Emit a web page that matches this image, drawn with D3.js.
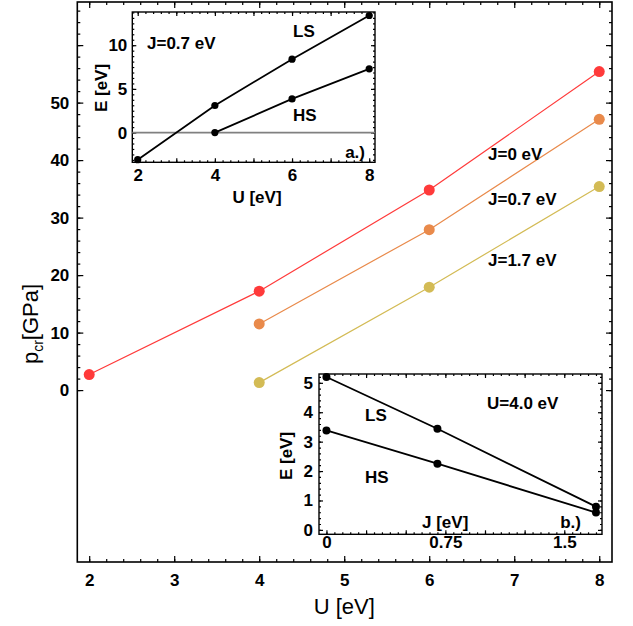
<!DOCTYPE html>
<html>
<head>
<meta charset="utf-8">
<script src="https://cdn.jsdelivr.net/npm/d3@7"></script>
<style>
  body { margin: 0; background: #fff; }
  svg { display: block; font-family: "Liberation Sans", Arial, Helvetica, sans-serif; }
  .tl text { font-weight: bold; font-size: 17px; fill: #000; }
  .tl path, .tk path { display: none; }
  .tk line, .tl line { stroke: #000; stroke-width: 1.2; }
  .lab { font-weight: bold; font-size: 17px; }
</style>
</head>
<body>
<svg id="graph" width="633" height="626"></svg>
<script>
//Main panel data: critical pressure vs U
const uJ0 = [2, 4, 6, 8];
const pJ0 = [2.7, 17.2, 34.8, 55.4];
const uJ = [4, 6, 8];
const pJ07 = [11.5, 27.9, 47.1];
const pJ17 = [1.3, 17.9, 35.4];
const seriesNames = ["J=0 eV", "J=0.7 eV", "J=1.7 eV"];
const seriesColors = ["#ff3a3a", "#e98a4b", "#d3bb55"];

//Inset a.) energies vs U at J=0.7 eV
const uLS = [2, 4, 6, 8];
const eLS = [-3.1, 3.1, 8.4, 13.4];
const uHS = [4, 6, 8];
const eHS = [0, 3.85, 7.3];

//Inset b.) energies vs J at U=4.0 eV
const jVals = [0, 0.7, 1.7];
const eLSb = [5.2, 3.44, 0.79];
const eHSb = [3.38, 2.25, 0.59];

//Tick labels
const mainXTicks = [2, 3, 4, 5, 6, 7, 8];
const mainYTicks = [0, 10, 20, 30, 40, 50];
const aXTicks = [2, 4, 6, 8];
const aYTicks = [0, 5, 10];
const bXTicks = [0, 0.75, 1.5];
const bYTicks = [0, 1, 2, 3, 4, 5];

let svg = d3.select("#graph");

// ticks on all four sides of a box, inward, with labels on left/bottom
function drawFrame(g, x, y, o) {
  let x0 = x.range()[0], x1 = x.range()[1];
  let y0 = y.range()[0], y1 = y.range()[1];

  g.append("rect")
    .attr("x", x0).attr("y", y1)
    .attr("width", x1 - x0).attr("height", y0 - y1)
    .attr("fill", "#fff");

  let minorX = d3.range(o.mx[0], o.mx[1] + 1e-9, o.mx[2]).filter(v => v >= x.domain()[0] && v <= x.domain()[1]);
  let minorY = d3.range(o.my[0], o.my[1] + 1e-9, o.my[2]).filter(v => v >= y.domain()[0] && v <= y.domain()[1]);
  let majorX = o.MX.filter(v => v >= x.domain()[0] && v <= x.domain()[1]);
  let majorY = o.MY.filter(v => v >= y.domain()[0] && v <= y.domain()[1]);

  // minor ticks
  g.append("g").attr("class", "tk").attr("transform", "translate(0," + y0 + ")")
    .call(d3.axisBottom(x).tickValues(minorX).tickSize(-o.minor).tickFormat(""));
  g.append("g").attr("class", "tk").attr("transform", "translate(0," + y1 + ")")
    .call(d3.axisTop(x).tickValues(minorX).tickSize(-o.minor).tickFormat(""));
  g.append("g").attr("class", "tk").attr("transform", "translate(" + x0 + ",0)")
    .call(d3.axisLeft(y).tickValues(minorY).tickSize(-o.minor).tickFormat(""));
  g.append("g").attr("class", "tk").attr("transform", "translate(" + x1 + ",0)")
    .call(d3.axisRight(y).tickValues(minorY).tickSize(-o.minor).tickFormat(""));

  // major ticks
  g.append("g").attr("class", "tk").attr("transform", "translate(0," + y1 + ")")
    .call(d3.axisTop(x).tickValues(majorX).tickSize(-o.major).tickFormat(""));
  g.append("g").attr("class", "tk").attr("transform", "translate(" + x1 + ",0)")
    .call(d3.axisRight(y).tickValues(majorY).tickSize(-o.major).tickFormat(""));

  let bx = g.append("g").attr("class", "tl").attr("transform", "translate(0," + y0 + ")")
    .call(d3.axisBottom(x).tickValues(majorX).tickSize(-o.major).tickPadding(o.px)
      .tickFormat(v => o.xl.includes(v) ? String(v) : ""));
  let by = g.append("g").attr("class", "tl").attr("transform", "translate(" + x0 + ",0)")
    .call(d3.axisLeft(y).tickValues(majorY).tickSize(-o.major).tickPadding(o.py)
      .tickFormat(v => o.yl.includes(v) ? String(v) : ""));
  bx.selectAll("text").attr("y", o.px).attr("dy", "0.71em");
  by.selectAll("text").attr("x", -o.py);

  g.append("rect")
    .attr("x", x0).attr("y", y1)
    .attr("width", x1 - x0).attr("height", y0 - y1)
    .attr("fill", "none").attr("stroke", "#000").attr("stroke-width", o.sw);
}

//Main plot
let x = d3.scaleLinear().domain([1.86, 8.15]).range([77.3, 612]);
let y = d3.scaleLinear().domain([-29.9, 67.5]).range([562, 2]);

let main = svg.append("g");
drawFrame(main, x, y, {
  mx: [1.8, 8.2, 0.2], my: [0, 66, 2],
  MX: mainXTicks, MY: [0, 10, 20, 30, 40, 50, 60],
  xl: mainXTicks, yl: mainYTicks,
  minor: 3, major: 6, px: 12, py: 8, sw: 1.6
});

let line = d3.line().x(d => x(d[0])).y(d => y(d[1]));
let series = [
  d3.zip(uJ0, pJ0),
  d3.zip(uJ, pJ07),
  d3.zip(uJ, pJ17)
];
series.forEach((s, i) => {
  main.append("path").attr("d", line(s))
    .attr("fill", "none").attr("stroke", seriesColors[i]).attr("stroke-width", 1.2);
  main.selectAll(null).data(s).enter().append("circle")
    .attr("cx", d => x(d[0])).attr("cy", d => y(d[1])).attr("r", 5.5)
    .attr("fill", seriesColors[i]);
});

// series labels next to the lines
let labelY = [160, 205, 266];
seriesNames.forEach((n, i) => {
  main.append("text").attr("class", "lab").attr("x", 488).attr("y", labelY[i]).text(n);
});

main.append("text")
  .attr("x", x(5)).attr("y", 614)
  .attr("text-anchor", "middle").attr("font-size", 22)
  .text("U [eV]");

let yl = main.append("text")
  .attr("transform", "translate(38,324) rotate(-90)")
  .attr("text-anchor", "middle").attr("font-size", 22);
yl.append("tspan").text("p");
yl.append("tspan").attr("font-size", 14).attr("dy", 5).text("cr");
yl.append("tspan").attr("dy", -5).text("[GPa]");

//Inset a.)
let xa = d3.scaleLinear().domain([1.86, 8.15]).range([132.3, 375]);
let ya = d3.scaleLinear().domain([-3.4, 13.8]).range([162.3, 12]);
let ga = svg.append("g");
drawFrame(ga, xa, ya, {
  mx: [1.8, 8.2, 0.2], my: [-5, 15, 0.625],
  MX: [2, 3, 4, 5, 6, 7, 8], MY: [0, 5, 10],
  xl: aXTicks, yl: aYTicks,
  minor: 2, major: 4, px: 7, py: 5, sw: 1.4
});

ga.append("line")
  .attr("x1", xa.range()[0]).attr("x2", xa.range()[1])
  .attr("y1", ya(0)).attr("y2", ya(0))
  .attr("stroke", "#808080").attr("stroke-width", 1.8);

let la = d3.line().x(d => xa(d[0])).y(d => ya(d[1]));
[d3.zip(uLS, eLS), d3.zip(uHS, eHS)].forEach(s => {
  ga.append("path").attr("d", la(s)).attr("fill", "none").attr("stroke", "#000").attr("stroke-width", 1.8);
  ga.selectAll(null).data(s).enter().append("circle")
    .attr("cx", d => xa(d[0])).attr("cy", d => ya(d[1])).attr("r", 3.6).attr("fill", "#000");
});

ga.append("text").attr("class", "lab").attr("x", 147).attr("y", 49).text("J=0.7 eV");
ga.append("text").attr("class", "lab").attr("x", 293).attr("y", 37).text("LS");
ga.append("text").attr("class", "lab").attr("x", 293).attr("y", 121).text("HS");
ga.append("text").attr("class", "lab").attr("x", 365).attr("y", 158).attr("text-anchor", "end").text("a.)");
ga.append("text").attr("class", "lab").attr("x", 257).attr("y", 203).attr("text-anchor", "middle").text("U [eV]");
ga.append("text").attr("class", "lab").attr("text-anchor", "middle")
  .attr("transform", "translate(107,88) rotate(-90)").text("E [eV]");

//Inset b.)
let xb = d3.scaleLinear().domain([-0.047, 1.738]).range([319, 602]);
let yb = d3.scaleLinear().domain([-0.15, 5.3]).range([534.3, 374]);
let gb = svg.append("g");
drawFrame(gb, xb, yb, {
  mx: [0, 1.75, 0.05], my: [0, 5.2, 0.2],
  MX: [0, 0.25, 0.5, 0.75, 1, 1.25, 1.5], MY: bYTicks,
  xl: bXTicks, yl: bYTicks,
  minor: 2, major: 4, px: 2, py: 6, sw: 1.4
});

let lb = d3.line().x(d => xb(d[0])).y(d => yb(d[1]));
[d3.zip(jVals, eLSb), d3.zip(jVals, eHSb)].forEach(s => {
  gb.append("path").attr("d", lb(s)).attr("fill", "none").attr("stroke", "#000").attr("stroke-width", 1.8);
  gb.selectAll(null).data(s).enter().append("circle")
    .attr("cx", d => xb(d[0])).attr("cy", d => yb(d[1])).attr("r", 4).attr("fill", "#000");
});

gb.append("text").attr("class", "lab").attr("x", 487).attr("y", 409).text("U=4.0 eV");
gb.append("text").attr("class", "lab").attr("x", 365).attr("y", 421).text("LS");
gb.append("text").attr("class", "lab").attr("x", 365).attr("y", 483).text("HS");
gb.append("text").attr("class", "lab").attr("x", 422).attr("y", 528).text("J [eV]");
gb.append("text").attr("class", "lab").attr("x", 581).attr("y", 528).attr("text-anchor", "end").text("b.)");
gb.append("text").attr("class", "lab").attr("text-anchor", "middle")
  .attr("transform", "translate(292,456) rotate(-90)").text("E [eV]");
</script>
</body>
</html>
